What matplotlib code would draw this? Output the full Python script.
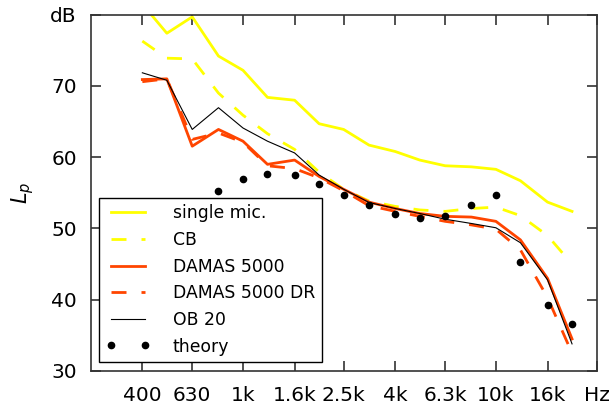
import matplotlib
matplotlib.use("Agg")
import matplotlib.pyplot as plt

# third-octave band centres (Hz)
freqs = [400, 500, 630, 800, 1000, 1250, 1600, 2000, 2500, 3150,
         4000, 5000, 6300, 8000, 10000, 12500, 16000, 20000]
theory_freqs = freqs[3:]

# levels in dB
single_mic = [81.5, 77.4, 79.7, 74.2, 72.2, 68.4, 68.0, 64.7, 63.9, 61.7,
              60.8, 59.6, 58.8, 58.65, 58.3, 56.7, 53.7, 52.4]
cb = [76.3, 73.9, 73.8, 69.0, 65.9, 63.3, 61.1, 57.9, 55.5, 53.85,
      53.1, 52.6, 52.4, 52.8, 53.0, 51.8, 49.0, 45.0]
damas = [70.9, 71.0, 61.55, 63.9, 62.25, 59.0, 59.6, 57.3, 55.5, 53.7,
         52.8, 52.1, 51.7, 51.6, 51.0, 48.4, 43.0, 34.5]
damas_dr = [70.6, 71.0, 62.5, 63.4, 62.1, 58.8, 58.4, 57.1, 55.3, 53.2,
            52.4, 51.7, 51.0, 50.5, 49.9, 47.0, 40.3, 32.5]
ob20 = [71.85, 70.8, 63.9, 66.95, 64.1, 62.25, 60.6, 57.5, 55.5, 53.65,
        52.8, 52.1, 51.3, 50.7, 50.1, 48.0, 42.8, 33.8]
theory = [55.3, 56.9, 57.7, 57.5, 56.2, 54.65, 53.25, 52.1, 51.5, 51.8,
          53.35, 54.7, 45.3, 39.3, 36.6]

xticks = [400, 630, 1000, 1600, 2500, 4000, 6300, 10000, 16000, 25000]
xlabels = ["400", "630", "1k", "1.6k", "2.5k", "4k", "6.3k", "10k", "16k", "Hz"]
yticks = [30, 40, 50, 60, 70, 80]
ylabels = ["30", "40", "50", "60", "70", "dB"]

fig = plt.figure(figsize=(6.15, 4.09), dpi=100)
ax = fig.add_axes([0.1475, 0.093, 0.8225, 0.871])

orange = "#ff4500"
ax.plot(freqs, single_mic, color="yellow", lw=2, label="single mic.")
ax.plot(freqs, cb, color="yellow", lw=2, ls=(0, (5.4, 5.4)), label="CB")
ax.plot(freqs, damas, color=orange, lw=2, label="DAMAS 5000")
ax.plot(freqs, damas_dr, color=orange, lw=2, ls=(0, (5.4, 5.4)), label="DAMAS 5000 DR")
ax.plot(freqs, ob20, color="black", lw=0.8, label="OB 20")
ax.plot(theory_freqs, theory, "o", color="black", ms=4.5, label="theory")

ax.set_xscale("log")
ax.set_xlim(250, 25000)
ax.set_ylim(30, 80)
ax.set_xticks(xticks)
ax.set_xticklabels(xlabels)
ax.minorticks_off()
ax.set_yticks(yticks)
ax.set_yticklabels(ylabels)
ax.tick_params(axis="both", direction="in", length=7, width=1.2,
               top=True, right=True, labelsize=14.5, color="#333333")
ax.tick_params(axis="x", pad=10.5)
ax.tick_params(axis="y", pad=10)
for s in ax.spines.values():
    s.set_linewidth(1.2)
    s.set_color("#333333")

ax.set_ylabel("$L_p$", fontsize=15, labelpad=10)

leg = ax.legend(loc="lower left", bbox_to_anchor=(0.017, 0.024), borderaxespad=0,
                fontsize=12.4, numpoints=2, handlelength=2.55, handletextpad=1.3,
                labelspacing=0.5, fancybox=False, framealpha=1, edgecolor="black")
leg.get_frame().set_linewidth(1.0)

fig.savefig("out.png", dpi=100)
